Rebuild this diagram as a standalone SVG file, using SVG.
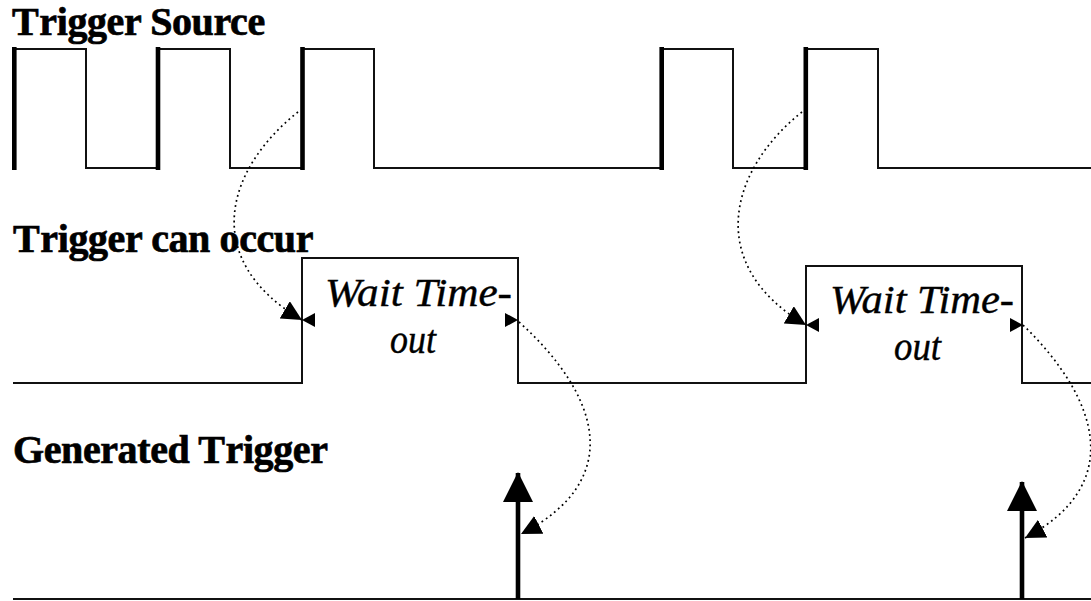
<svg xmlns="http://www.w3.org/2000/svg" width="1091" height="601" viewBox="0 0 1091 601">
<style>
.wave{fill:none;stroke:#111;stroke-width:2}
.edge{fill:none;stroke:#000;stroke-width:4.6}
.dot{fill:none;stroke:#000;stroke-width:1.7;stroke-dasharray:1.8 3.4}
.title{font-family:"Liberation Serif","Times New Roman",serif;font-weight:bold;font-size:40px;fill:#000;stroke:#000;stroke-width:0.7;letter-spacing:-0.4px}
.lbl{font-family:"Liberation Serif","Times New Roman",serif;font-style:italic;font-size:40px;fill:#000;stroke:#000;stroke-width:0.4}
.shaft{fill:none;stroke:#000;stroke-width:4.6}
</style>
<defs>
<marker id="big" viewBox="0 0 20 20" markerWidth="20" markerHeight="20" refX="20" refY="10" orient="auto" markerUnits="userSpaceOnUse">
<path d="M0,0 L20,10 L0,20 z" fill="#000"/>
</marker>
<marker id="small" viewBox="0 0 13 14" markerWidth="13" markerHeight="14" refX="13" refY="7" orient="auto-start-reverse" markerUnits="userSpaceOnUse">
<path d="M0,0 L13,7 L0,14 z" fill="#000"/>
</marker>
<marker id="trig" viewBox="0 0 30 30" markerWidth="30" markerHeight="30" refX="29" refY="15" orient="auto" markerUnits="userSpaceOnUse">
<path d="M0,0 L30,15 L0,30 z" fill="#000"/>
</marker>
</defs>

<g id="trigger-source">
<text class="title" x="12" y="35">T<tspan dx="4">rigger Source</tspan></text>
<path class="wave" d="M14,49 H86 V168 H158 V49 H230 V168 H302 V49 H374 V168 H661 V49 H733 V168 H806 V49 H878 V168 H1091"/>
<path class="edge" d="M14.3,47 V170 M158,47 V170 M302.5,47 V170 M661.7,47 V170 M805.8,47 V170"/>
</g>

<g id="trigger-can-occur">
<text class="title" x="13" y="252">T<tspan dx="4">rigger can occur</tspan></text>
<path class="wave" d="M13,383 H302 V258 H518 V383 H806 V266 H1022 V383 H1091"/>
</g>

<g id="wait-timeout-1">
<text class="lbl" x="325" y="306" textLength="187" lengthAdjust="spacingAndGlyphs">Wait Time-</text>
<text class="lbl" x="390" y="353" textLength="46" lengthAdjust="spacingAndGlyphs">out</text>
</g>

<g id="wait-timeout-2">
<text class="lbl" x="830" y="313" textLength="184" lengthAdjust="spacingAndGlyphs">Wait Time-</text>
<text class="lbl" x="894" y="360" textLength="47" lengthAdjust="spacingAndGlyphs">out</text>
</g>

<g id="generated-trigger">
<text class="title" x="13" y="463">Generated T<tspan dx="4">rigger</tspan></text>
<path class="wave" d="M13,599 H1091"/>
</g>

<g id="connectors">
<path class="shaft" d="M518,599 V473" marker-end="url(#trig)"/>
<path class="shaft" d="M1022,599 V482" marker-end="url(#trig)"/>
<path d="M302,320 H518" stroke="none" fill="none" marker-start="url(#small)" marker-end="url(#small)"/>
<path d="M806,325 H1023" stroke="none" fill="none" marker-start="url(#small)" marker-end="url(#small)"/>
<path class="dot" d="M298,112 C225,170 200,260 302,320" marker-end="url(#big)"/>
<path class="dot" d="M519,322 C600,395 626,480 521,534" marker-end="url(#big)"/>
<path class="dot" d="M802,112 C729,170 704,265 806,325" marker-end="url(#big)"/>
<path class="dot" d="M1023,325 C1100,400 1125,485 1025,538" marker-end="url(#big)"/>
</g>
</svg>
